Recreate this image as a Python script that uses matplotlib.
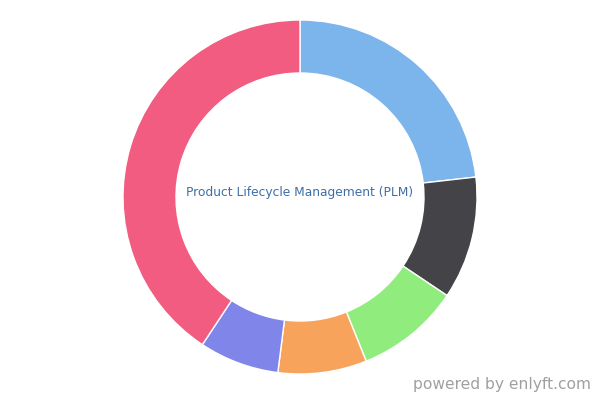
import matplotlib.pyplot as plt

# slice shares, clockwise from the top
labels = ['A', 'B', 'C', 'D', 'E', 'F']
values = [23.2, 11.2, 9.5, 8.1, 7.3, 40.7]
colors = ['#7cb5ec', '#434348', '#90ed7d', '#f7a35c', '#8085e9', '#f15c80']

title = 'Product Lifecycle Management (PLM)'
credit = 'powered by enlyft.com'

fig = plt.figure(figsize=(6, 4), dpi=100)
ax = fig.add_axes([0, 0, 1, 1])

ax.pie(values, colors=colors, radius=177, startangle=90, counterclock=False,
       wedgeprops=dict(width=53, edgecolor='white', linewidth=1))

# axes in pixel units, centre of donut at (300, 197) from top-left
ax.set_xlim(-300, 300)
ax.set_ylim(-203, 197)
ax.set_aspect('equal')
ax.axis('off')

ax.text(0, 4, title, ha='center', va='center', fontsize=8.8,
        color='#3e6ea6', family='DejaVu Sans')
fig.text(0.985, 0.02, credit, ha='right', va='bottom', fontsize=11.2,
         color='#a0a0a0', family='DejaVu Sans')

fig.savefig('out.png', dpi=100)
